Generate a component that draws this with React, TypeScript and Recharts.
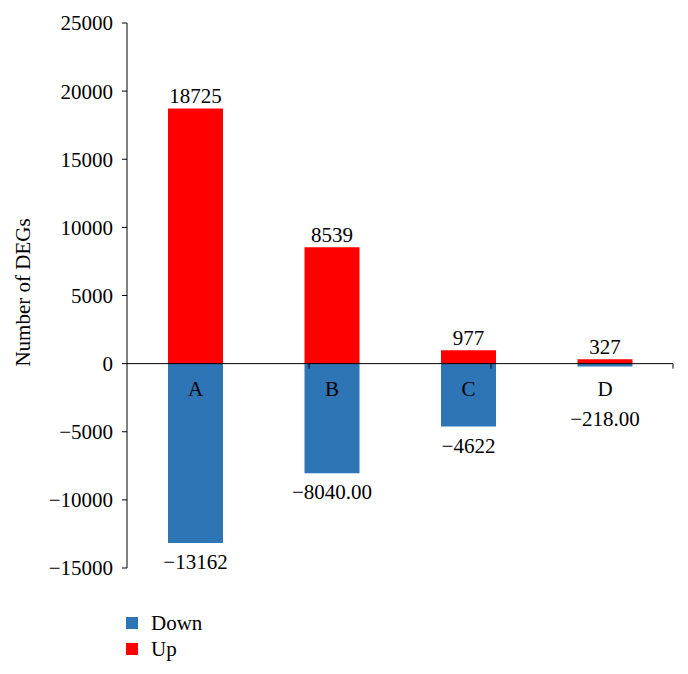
import { BarChart, Bar, XAxis, YAxis, ReferenceLine, LabelList, Legend } from "recharts"

const categories = ['A', 'B', 'C', 'D']
const upValues = [18725, 8539, 977, 327]
const downValues = [-13162, -8040, -4622, -218]
const downLabels = ['\u221213162', '\u22128040.00', '\u22124622', '\u2212218.00']
const yTicks = [-15000, -10000, -5000, 0, 5000, 10000, 15000, 20000, 25000]
const boundaries = [1, 2, 3, 4]

const FONT = '"Liberation Serif", "DejaVu Serif", serif'
const FS = 21
const DOWN = '#2E75B6'
const UP = '#FF0000'

const data = categories.map((name, i) => ({
  name,
  up: upValues[i],
  down: downValues[i],
  downLabel: downLabels[i],
}))

const fmt = (v: number) => (v < 0 ? '\u2212' + Math.abs(v) : String(v))

function CategoryLabel(props: any) {
  const { x, y, width, height, value } = props
  const top = Math.min(y, y + height)
  return (
    <text x={x + width / 2} y={top + 25} textAnchor="middle" dominantBaseline="central"
      fontFamily={FONT} fontSize={FS} fill="#000">{value}</text>
  )
}

function DownLabel(props: any) {
  const { x, y, width, height, value } = props
  const top = Math.min(y, y + height)
  const bottom = Math.max(y, y + height)
  const cy = Math.max(bottom + 19, top + 55)
  return (
    <text x={x + width / 2} y={cy} textAnchor="middle" dominantBaseline="central"
      fontFamily={FONT} fontSize={FS} fill="#000">{value}</text>
  )
}

function YTitle(props: any) {
  const { viewBox } = props
  const cx = viewBox.x + 15
  const cy = viewBox.y + viewBox.height / 2 - 3
  return (
    <text x={cx} y={cy} transform={`rotate(-90 ${cx} ${cy})`} textAnchor="middle" dominantBaseline="central"
      fontFamily={FONT} fontSize={FS} fill="#000">Number of DEGs</text>
  )
}

const legendItems = [
  { name: 'Down', color: DOWN },
  { name: 'Up', color: UP },
]

function LegendBox() {
  return (
    <div style={{ fontFamily: FONT, fontSize: FS, color: '#000' }}>
      {legendItems.map(item => (
        <div key={item.name} style={{ display: 'flex', alignItems: 'center', height: 26 }}>
          <span style={{ display: 'inline-block', width: 12, height: 12, background: item.color, marginRight: 13 }} />
          <span>{item.name}</span>
        </div>
      ))}
    </div>
  )
}

export default function App() {
  return (
    <BarChart width={680} height={666} data={data} stackOffset="sign"
      margin={{ top: 15, right: 15, left: 0, bottom: 106 }}>
      <XAxis dataKey="name" hide />
      <XAxis xAxisId="grid" type="number" domain={[0, 4]} hide />
      <YAxis domain={[-15000, 25000]} ticks={yTicks} interval={0} width={119}
        tickFormatter={fmt} stroke="#000" tickSize={5} tickMargin={9}
        tick={{ fontFamily: FONT, fontSize: FS, fill: '#000' }}
        label={<YTitle />} />
      <Legend layout="horizontal" verticalAlign="middle" align="center"
        content={<LegendBox />}
        wrapperStyle={{ position: 'absolute', top: 602, left: 118, width: 120 }} />
      <Bar dataKey="down" name="Down" stackId="a" fill={DOWN} barSize={55} isAnimationActive={false}>
        <LabelList dataKey="name" content={<CategoryLabel />} />
        <LabelList dataKey="downLabel" content={<DownLabel />} />
      </Bar>
      <Bar dataKey="up" name="Up" stackId="a" fill={UP} barSize={55} isAnimationActive={false}>
        <LabelList dataKey="up" position="top" offset={5} fontFamily={FONT} fontSize={FS} fill="#000" />
      </Bar>
      <ReferenceLine y={0} stroke="#000" strokeWidth={1} />
      {boundaries.map(b => (
        <ReferenceLine key={b} xAxisId="grid" stroke="#000" strokeWidth={1}
          segment={[{ x: b, y: 0 }, { x: b, y: -370 }]} />
      ))}
    </BarChart>
  )
}
